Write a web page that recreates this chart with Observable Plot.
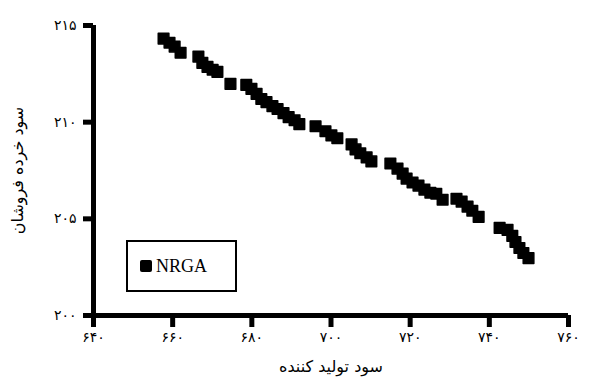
<!DOCTYPE html>
<html><head><meta charset="utf-8">
<script src="https://cdn.jsdelivr.net/npm/d3@7"></script>
<script src="https://cdn.jsdelivr.net/npm/@observablehq/plot@0.6"></script>
<style>
body{margin:0;background:#fff}
#wrap{position:relative;width:607px;height:379px}
#legend{position:absolute;left:126px;top:240px;width:111px;height:52px;border:2.5px solid #000;box-sizing:border-box;display:flex;align-items:center;padding-left:12px;font-family:"Liberation Serif",serif;font-size:18px;color:#000;background:#fff}
#legend .sw{display:inline-block;width:12px;height:12px;background:#000;border-radius:2px;margin-right:4px}
</style></head>
<body><div id="wrap"></div>
<script>
const seriesName = "NRGA";
const xTitle = "سود تولید کننده";
const yTitle = "سود خرده فروشان";
const producerProfit = [657.7,659.2,660.5,662.0,666.5,667.5,668.8,670.1,671.3,674.6,678.6,679.9,681.2,682.4,683.7,685.2,686.5,688.0,689.3,690.8,692.0,696.1,698.6,700.1,701.6,705.2,706.2,707.4,709.0,710.2,715.0,716.8,718.1,719.1,720.6,722.1,723.6,725.1,726.6,728.2,731.7,733.0,734.5,735.7,737.3,742.6,744.6,745.8,746.6,747.6,748.6,749.9];
const retailerProfit = [214.32,214.11,213.91,213.59,213.39,213.07,212.86,212.71,212.60,211.98,211.93,211.72,211.46,211.20,211.04,210.83,210.68,210.47,210.26,210.10,209.90,209.79,209.53,209.32,209.17,208.85,208.59,208.39,208.18,207.97,207.86,207.60,207.34,207.08,206.88,206.72,206.51,206.35,206.30,205.99,206.04,205.89,205.63,205.42,205.10,204.53,204.43,204.12,203.80,203.49,203.23,202.97];
const xTicks = [640,660,680,700,720,740,760];
const xTickLabels = ["۶۴۰","۶۶۰","۶۸۰","۷۰۰","۷۲۰","۷۴۰","۷۶۰"];
const yTicks = [200,205,210,215];
const yTickLabels = ["۲۰۰","۲۰۵","۲۱۰","۲۱۵"];

const W = 607, H = 379, mL = 93, mR = 39, mT = 25, mB = 64;
const frameW = W - mL - mR, frameH = H - mT - mB;
const data = producerProfit.map((x,i)=>({x, y: retailerProfit[i]}));
const chart = Plot.plot({
  width:W, height:H, marginLeft:mL, marginRight:mR, marginTop:mT, marginBottom:mB,
  style:{fontFamily:"DejaVu Sans, sans-serif", fontSize:"14px", background:"white", color:"black"},
  x:{domain:[640,760]}, y:{domain:[200,215]},
  marks:[
    Plot.ruleX(xTicks,{x:d=>d, strokeWidth:5, insetTop:frameH, insetBottom:-12}),
    Plot.ruleY(yTicks,{y:d=>d, strokeWidth:5, insetRight:frameW, insetLeft:-10}),
    Plot.ruleX([640],{strokeWidth:5}),
    Plot.ruleY([200],{strokeWidth:5}),
    Plot.axisX({ticks:xTicks, tickSize:0, tickPadding:17, tickFormat:d=>xTickLabels[xTicks.indexOf(d)], fontSize:14, label:null}),
    Plot.axisY({ticks:yTicks, tickSize:0, tickPadding:17, tickFormat:d=>yTickLabels[yTicks.indexOf(d)], fontSize:14, label:null}),
    Plot.axisX({ticks:[], tickSize:0, label:xTitle, labelArrow:false, labelAnchor:"center", labelOffset:56, fontSize:16}),
    Plot.axisY({ticks:[], tickSize:0, label:yTitle, labelArrow:false, labelAnchor:"center", labelOffset:82, fontSize:16}),
    Plot.dot(data,{x:"x",y:"y",symbol:"square",r:6,fill:"black",stroke:"black",strokeWidth:1.5,strokeLinejoin:"round"})
  ]
});
const wrap = document.getElementById("wrap");
wrap.appendChild(chart);
const lg = document.createElement("div");
lg.id = "legend";
lg.innerHTML = '<span class="sw"></span><span></span>';
lg.lastChild.textContent = seriesName;
wrap.appendChild(lg);
</script>
</body></html>
